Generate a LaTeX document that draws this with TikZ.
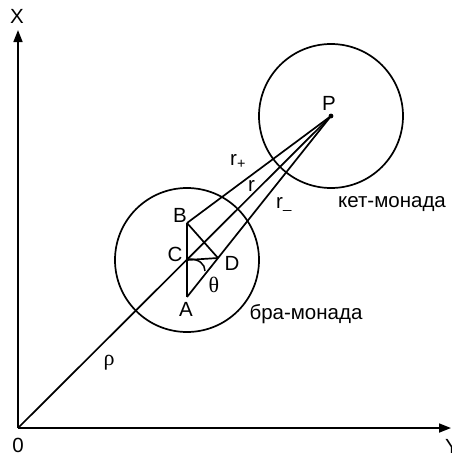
\documentclass[tikz,border=0pt]{standalone}
\usepackage{fontspec}
\setmainfont{Liberation Sans}
\newfontfamily\greekfont{Liberation Serif}
\usetikzlibrary{arrows.meta}
\begin{document}
\begin{tikzpicture}[x=1pt,y=-1pt,
  ln/.style={line width=1.7pt},
  axis/.style={line width=1.7pt,-{Triangle[length=12pt,width=9pt]}},
  lbl/.style={inner sep=0pt,font=\fontsize{20.5}{24}\selectfont},
  glbl/.style={inner sep=0pt,font=\fontsize{22}{26}\selectfont\greekfont}]
\useasboundingbox (0,0) rectangle (452,456);
% points
\coordinate (O) at (18,428);
\coordinate (P) at (331,116);
\coordinate (C) at (187,260);
\coordinate (B) at (187,223);
\coordinate (A) at (187,297);
\coordinate (D) at (218,258);
\coordinate (Xt) at (18,30);
\coordinate (Yt) at (451,428);
% axes
\draw[axis] (O) -- (Xt);
\draw[axis] (O) -- (Yt);
% circles
\node[circle,draw,line width=1.7pt,minimum size=144pt,inner sep=0pt] (bra) at (C) {};
\node[circle,draw,line width=1.7pt,minimum size=144pt,inner sep=0pt] (ket) at (P) {};
% lines
\draw[ln] (O) -- (P);
\draw[ln] (B) -- (P);
\draw[ln] (A) -- (P);
\draw[ln] (B) -- (A);
\draw[ln] (B) -- (D);
\draw[ln] (C) -- (D);
\draw[line width=1.5pt] ([shift={(2,-1)}]C) .. controls ([shift={(12,-1)}]C) and ([shift={(18,4)}]C) .. ([shift={(18,11)}]C);
\fill (P) circle (2.4pt);
% labels
\node[lbl] (lX) at (17,16) {X};
\node[lbl] (lY) at (452,446) {Y};
\node[lbl] (l0) at (18,445) {0};
\node[lbl] (lP) at (329,103) {P};
\node[lbl] (lB) at (180,215) {B};
\node[lbl] (lC) at (175,254) {C};
\node[lbl] (lD) at (232,263) {D};
\node[lbl] (lA) at (186,309) {A};
\node[glbl] (lth) at (214,285) {θ};
\node[glbl] (lrho) at (109,363) {ρ};
\node[lbl,anchor=base west] (lrp) at (230,165) {r\textsubscript{+}};
\node[lbl,anchor=base west] (lr) at (248,191) {r};
\node[lbl,anchor=base west] (lrm) at (276,208) {r{\fontsize{15}{15}\selectfont\_}};
\node[lbl] (lket) at (392,204) {кет-монада};
\node[lbl] (lbra) at (306,314) {бра-монада};
\end{tikzpicture}
\end{document}
